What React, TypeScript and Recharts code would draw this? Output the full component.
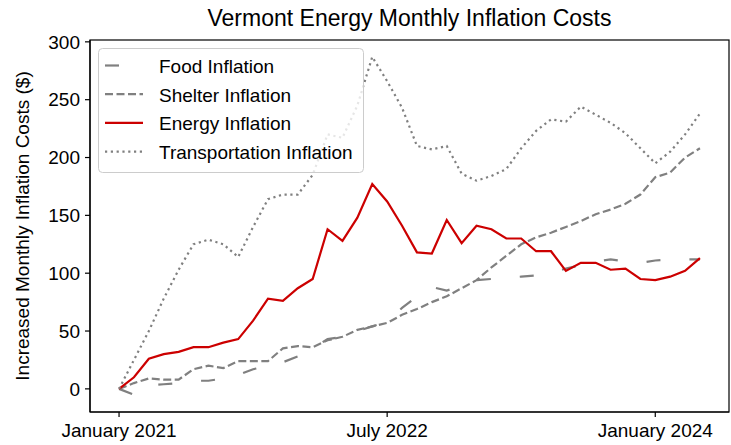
import React from "react";
import { LineChart, Line, XAxis, YAxis } from "recharts";

const months = [
  "2021-01", "2021-02", "2021-03", "2021-04", "2021-05", "2021-06", "2021-07", "2021-08", "2021-09", "2021-10", "2021-11", "2021-12",
  "2022-01", "2022-02", "2022-03", "2022-04", "2022-05", "2022-06", "2022-07", "2022-08", "2022-09", "2022-10", "2022-11", "2022-12",
  "2023-01", "2023-02", "2023-03", "2023-04", "2023-05", "2023-06", "2023-07", "2023-08", "2023-09", "2023-10", "2023-11", "2023-12",
  "2024-01", "2024-02", "2024-03", "2024-04",
];

const foodInflation = [0, -5, 3, 4, 5, 7, 7, 9, 12, 17, 20, 23, 28, 35, 43, 45, 50, 54, 58, 70, 80, 88, 85, 89, 94, 95, 96, 97, 98, 100, 104, 107, 110, 112, 110, 109, 111, 112, 112, 112];
const shelterInflation = [0, 5, 9, 8, 8, 17, 20, 18, 24, 24, 24, 35, 37, 36, 42, 45, 51, 54, 57, 64, 69, 75, 80, 87, 94, 105, 115, 125, 131, 135, 140, 145, 151, 155, 160, 168, 183, 187, 200, 208];
const energyInflation = [0, 10, 26, 30, 32, 36, 36, 40, 43, 59, 78, 76, 87, 95, 138, 128, 148, 177, 162, 141, 118, 117, 146, 126, 141, 138, 130, 130, 119, 119, 102, 109, 109, 103, 104, 95, 94, 97, 102, 113];
const transportationInflation = [0, 25, 50, 78, 103, 125, 129, 125, 114, 140, 164, 168, 168, 185, 220, 217, 245, 287, 266, 243, 210, 207, 210, 186, 180, 184, 190, 208, 223, 233, 231, 244, 237, 230, 221, 208, 195, 205, 220, 238];

const xTickMonths = ["2021-01", "2022-07", "2024-01"];
const xTickLabels = ["January 2021", "July 2022", "January 2024"];
const yTicks = [0, 50, 100, 150, 200, 250, 300];

const FONT = "'Liberation Sans', Arial, sans-serif";
const GRAY = "#808080";

const SERIES = [
  { key: "food", name: "Food Inflation", color: GRAY, dash: "14 29" },
  { key: "shelter", name: "Shelter Inflation", color: GRAY, dash: "8 3.5" },
  { key: "energy", name: "Energy Inflation", color: "#cc0000", dash: undefined },
  { key: "transportation", name: "Transportation Inflation", color: GRAY, dash: "2.2 3.6" },
];

const data = months.map((month, i) => ({
  i,
  month,
  food: foodInflation[i],
  shelter: shelterInflation[i],
  energy: energyInflation[i],
  transportation: transportationInflation[i],
}));

const xTicks = xTickMonths.map((m) => months.indexOf(m));
const X_DOMAIN = [-1.95, months.length - 1 + 1.95];
const Y_DOMAIN = [-20, 301.6];

// plot frame (matches chart margins below)
const PLOT = { left: 90, top: 40, right: 729, bottom: 412 };

export default function App() {
  return (
    <div style={{ position: "absolute", left: 0, top: 0, width: 731, height: 445, background: "#fff", fontFamily: FONT }}>
      <LineChart width={731} height={445} data={data} margin={{ top: PLOT.top, right: 731 - PLOT.right, bottom: 0, left: 0 }}>
        <XAxis
          dataKey="i"
          type="number"
          domain={X_DOMAIN}
          ticks={xTicks}
          interval={0}
          tickFormatter={(v: number) => xTickLabels[xTicks.indexOf(v)]}
          height={445 - PLOT.bottom}
          tickSize={5}
          tickMargin={7}
          axisLine={{ stroke: "#000", strokeWidth: 1.2 }}
          tickLine={{ stroke: "#000", strokeWidth: 1.2 }}
          tick={{ fontSize: 19, fill: "#000", fontFamily: FONT }}
        />
        <YAxis
          type="number"
          domain={Y_DOMAIN}
          ticks={yTicks}
          interval={0}
          width={PLOT.left}
          tickSize={5}
          tickMargin={5}
          allowDataOverflow
          axisLine={{ stroke: "#000", strokeWidth: 1.2 }}
          tickLine={{ stroke: "#000", strokeWidth: 1.2 }}
          tick={{ fontSize: 19, fill: "#000", fontFamily: FONT }}
        />
        {SERIES.map((s) => (
          <Line
            key={s.key}
            type="linear"
            dataKey={s.key}
            name={s.name}
            stroke={s.color}
            strokeWidth={2.2}
            strokeDasharray={s.dash}
            dot={false}
            isAnimationActive={false}
          />
        ))}
      </LineChart>

      {/* frame, title, y label and legend drawn over the chart */}
      <svg width={731} height={445} style={{ position: "absolute", left: 0, top: 0, pointerEvents: "none" }}>
        <rect
          x={PLOT.left}
          y={PLOT.top}
          width={PLOT.right - PLOT.left}
          height={PLOT.bottom - PLOT.top}
          fill="none"
          stroke="#000"
          strokeWidth={1.2}
        />
        <text x={409.5} y={26} textAnchor="middle" fontSize={23} fontFamily={FONT} fill="#000">
          Vermont Energy Monthly Inflation Costs
        </text>
        <text x={29} y={226} textAnchor="middle" fontSize={19} fontFamily={FONT} fill="#000" transform="rotate(-90 29 226)">
          Increased Monthly Inflation Costs ($)
        </text>
        <rect x={98.5} y={48.5} width={265} height={124} rx={4} fill="#fff" fillOpacity={0.8} stroke="#cccccc" />
        {SERIES.map((s, k) => {
          const base = 73 + k * 28.7;
          return (
            <g key={s.key}>
              <line x1={105} x2={143} y1={base - 7.5} y2={base - 7.5} stroke={s.color} strokeWidth={2.2} strokeDasharray={s.dash} />
              <text x={159} y={base} fontSize={19} fontFamily={FONT} fill="#000">
                {s.name}
              </text>
            </g>
          );
        })}
      </svg>
    </div>
  );
}
